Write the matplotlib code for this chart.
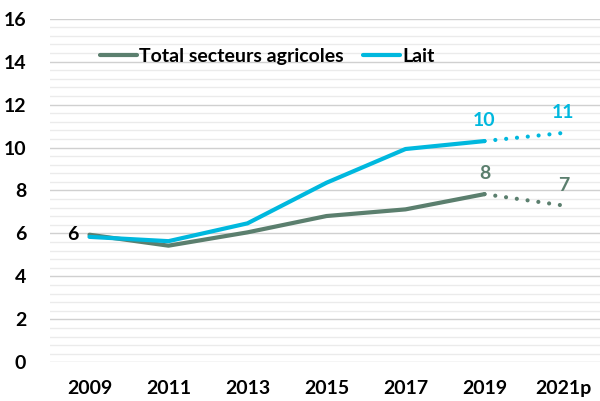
import matplotlib.pyplot as plt
from matplotlib.ticker import MultipleLocator

plt.rcParams['font.family'] = ['Lato', 'DejaVu Sans']

# Data
years = ['2009', '2011', '2013', '2015', '2017', '2019', '2021p']
total = [5.94, 5.43, 6.05, 6.81, 7.12, 7.83, 7.30]
lait = [5.84, 5.64, 6.47, 8.36, 9.93, 10.30, 10.68]

# labels: (index, text)
total_labels = [(5, '8'), (6, '7')]
lait_labels = [(5, '10'), (6, '11')]
first_label = '6'

c_total = '#5b7f6e'
c_lait = '#00b8de'
fs = 14

fig = plt.figure(figsize=(6, 4.01), dpi=100)
ax = fig.add_axes([0.0833, 0.0965, 0.9217, 0.857])

x = list(range(len(years)))
split = 5  # last observed point (2019), then projection

ax.plot(x[:split + 1], total[:split + 1], color=c_total, lw=3, solid_capstyle='round',
        label='Total secteurs agricoles', zorder=3)
ax.plot(x[:split + 1], lait[:split + 1], color=c_lait, lw=3, solid_capstyle='round',
        label='Lait', zorder=4)
ax.plot(x[split:], total[split:], color=c_total, lw=3, linestyle=(0, (0.01, 2.6)),
        dash_capstyle='round', zorder=3)
ax.plot(x[split:], lait[split:], color=c_lait, lw=3, linestyle=(0, (0.01, 2.6)),
        dash_capstyle='round', zorder=4)

# data labels
for i, t in total_labels:
    ax.text(x[i], total[i] + 0.55, t, color=c_total, fontsize=fs, fontweight='bold',
            ha='center', va='bottom')
for i, t in lait_labels:
    ax.text(x[i], lait[i] + 0.55, t, color=c_lait, fontsize=fs, fontweight='bold',
            ha='center', va='bottom')
ax.text(x[0] - 0.14, total[0], first_label, color='black', fontsize=fs,
        fontweight='bold', ha='right', va='center')

ax.set_xlim(-0.5, 6.5)
ax.set_ylim(0, 16)
ax.set_xticks(x)
ax.set_xticklabels(years)
ax.yaxis.set_major_locator(MultipleLocator(2))
ax.yaxis.set_minor_locator(MultipleLocator(0.4))

ax.grid(axis='y', which='major', color='#d0d0d0', lw=1)
ax.grid(axis='y', which='minor', color='#ebebeb', lw=1)
ax.set_axisbelow(True)
for s in ax.spines.values():
    s.set_visible(False)
ax.tick_params(axis='both', which='both', length=0, labelsize=fs)
ax.tick_params(axis='x', pad=13)
ax.tick_params(axis='y', pad=17)
for lbl in ax.get_xticklabels() + ax.get_yticklabels():
    lbl.set_fontweight('bold')

ax.legend(loc='upper left', bbox_to_anchor=(0.059, 0.965), ncol=2, frameon=False,
          prop={'weight': 'bold', 'size': fs}, handlelength=1.9,
          handletextpad=0.1, columnspacing=1.0)

fig.savefig('out.png', dpi=100)
